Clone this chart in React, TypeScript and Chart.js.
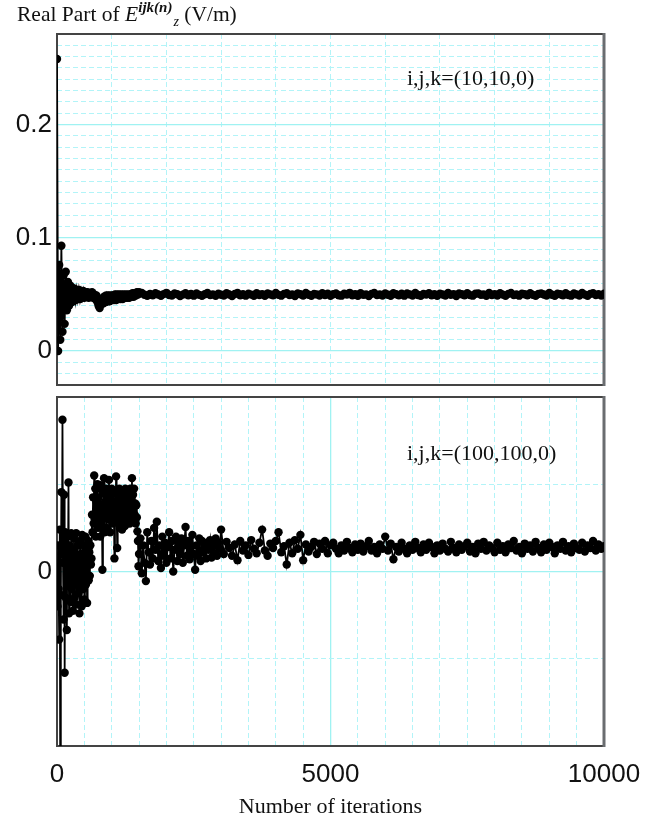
import React, { useEffect, useRef } from 'react';
import { Chart, registerables } from 'chart.js';
Chart.register(...registerables);

// ---- data ----
// sampling of iterations: [segment end, step]
const TOP_SAMPLING: [number, number][] = [[1500, 20], [10000, 50]];
const BOTTOM_SAMPLING: [number, number][] = [[1500, 10], [3000, 25], [10000, 50]];

const TOP_EARLY = [
  0.258, 0.000, 0.076, 0.010, 0.093, 0.017, 0.067, 0.024, 0.070, 0.036,
  0.061, 0.040, 0.058, 0.043, 0.056, 0.044, 0.055, 0.045, 0.054, 0.046,
  0.054, 0.046, 0.053, 0.047, 0.053, 0.047, 0.052, 0.048, 0.052, 0.047,
  0.051, 0.048, 0.052, 0.047, 0.050, 0.046, 0.049, 0.043, 0.040, 0.038,
  0.041, 0.046, 0.042, 0.048, 0.043, 0.049, 0.044, 0.049, 0.044, 0.049,
  0.045, 0.049, 0.045, 0.050, 0.045, 0.050, 0.046, 0.050, 0.046, 0.050,
  0.046, 0.050, 0.047, 0.050, 0.047, 0.050, 0.047, 0.050, 0.048, 0.051,
  0.048, 0.051, 0.049, 0.052, 0.050, 0.052,
];
const TOP_LATE = [
  0.0512, 0.0497, 0.0488, 0.0505, 0.0493, 0.0510, 0.0499, 0.0487, 0.0503, 0.0514,
  0.0495, 0.0490, 0.0508, 0.0501, 0.0486, 0.0498, 0.0511, 0.0492, 0.0504, 0.0489,
  0.0509, 0.0496, 0.0487, 0.0502, 0.0513, 0.0494, 0.0500, 0.0488, 0.0506, 0.0497,
  0.0491, 0.0510, 0.0499, 0.0486, 0.0504, 0.0512, 0.0493, 0.0501, 0.0489, 0.0507,
  0.0498, 0.0488, 0.0511, 0.0495, 0.0503, 0.0487, 0.0509, 0.0500, 0.0492, 0.0513,
  0.0496, 0.0489, 0.0505, 0.0510, 0.0494, 0.0499, 0.0486, 0.0508, 0.0502, 0.0491,
  0.0512, 0.0497, 0.0488, 0.0504, 0.0500, 0.0490, 0.0511, 0.0495, 0.0506, 0.0487,
  0.0501, 0.0509, 0.0493, 0.0489, 0.0507, 0.0498, 0.0514, 0.0492, 0.0503, 0.0488,
  0.0510, 0.0496, 0.0500, 0.0486, 0.0505, 0.0512, 0.0494, 0.0499, 0.0490, 0.0508,
  0.0497, 0.0487, 0.0511, 0.0502, 0.0493, 0.0506, 0.0489, 0.0509, 0.0500, 0.0491,
  0.0513, 0.0495, 0.0488, 0.0504, 0.0498, 0.0510, 0.0492, 0.0501, 0.0487, 0.0507,
  0.0499, 0.0490, 0.0512, 0.0496, 0.0503, 0.0486, 0.0508, 0.0501, 0.0493, 0.0511,
  0.0494, 0.0489, 0.0506, 0.0509, 0.0497, 0.0500, 0.0488, 0.0513, 0.0495, 0.0503,
  0.0491, 0.0510, 0.0498, 0.0487, 0.0505, 0.0512, 0.0494, 0.0500, 0.0489, 0.0507,
  0.0502, 0.0492, 0.0511, 0.0496, 0.0488, 0.0504, 0.0509, 0.0499, 0.0490, 0.0513,
  0.0497, 0.0487, 0.0506, 0.0501, 0.0493, 0.0510, 0.0495, 0.0489, 0.0508, 0.0500,
  0.0491, 0.0512, 0.0498, 0.0488, 0.0505, 0.0510, 0.0494, 0.0502, 0.0490, 0.0506,
];
// iterations 0..1500, every 10
const BOTTOM_EARLY = [
  0.00, -0.40, 0.30, -0.20, -0.78, 0.48, -2.60, -0.27, 0.91, 0.20, 1.74, 0.10, -0.55, 0.88, -1.16,
  0.45, -0.30, 0.15, -0.67, 0.40, -0.10, 1.02, -0.48, 0.30, 0.05, -0.35, 0.44, -0.20, 0.25, -0.45,
  0.10, 0.38, -0.30, 0.20, -0.15, 0.44, -0.38, 0.00, 0.30, -0.25, 0.15, -0.48, 0.35, -0.05, 0.20,
  -0.40, 0.42, 0.10, -0.20, 0.30, -0.32, 0.05, 0.40, -0.15, 0.25, -0.36, 0.12, 0.35, -0.10, 0.22,
  -0.05, 0.30, 0.08, 0.15, 0.65, 0.45, 0.85, 0.55, 1.10, 0.60, 0.95, 0.40, 0.80, 0.70, 1.00,
  0.50, 0.85, 0.65, 0.95, 0.40, 0.99, 0.55, 0.75, 0.02, 0.60, 0.90, 1.07, 0.45, 0.80, 0.65,
  0.95, 0.50, 0.78, 0.88, 0.60, 1.05, 0.70, 0.45, 0.85, 0.62, 0.95, 0.55, 0.72, 0.90, 0.65,
  0.15, 0.80, 0.60, 1.09, 0.75, 0.27, 0.90, 0.55, 0.70, 0.95, 0.50, 0.82, 0.62, 0.88, 0.48,
  0.75, 0.90, 0.60, 0.80, 0.52, 0.95, 0.68, 0.85, 0.58, 0.78, 0.92, 0.65, 0.88, 0.55, 0.95,
  0.70, 0.82, 1.07, 0.60, 0.88, 0.75, 0.95, 0.65, 0.78, 0.55, 0.76, 0.62, 0.46, 0.35, 0.06,
  0.20,
];
// iterations 1525..3000, every 25
const BOTTOM_MID = [
  0.38, -0.02, 0.30, 0.10, -0.11, 0.45, 0.22, 0.08, 0.35, 0.15,
  0.50, 0.25, 0.57, 0.12, 0.30, 0.04, 0.40, 0.18, 0.33, 0.10,
  0.28, 0.45, 0.15, 0.35, 0.00, 0.25, 0.40, 0.12, 0.32, 0.20,
  0.38, 0.10, 0.30, 0.51, 0.18, 0.35, 0.14, 0.28, 0.42, 0.20,
  0.02, 0.30, 0.18, 0.38, 0.12, 0.35, 0.22, 0.30, 0.15, 0.33,
  0.25, 0.36, 0.16, 0.30, 0.21, 0.38, 0.18, 0.33, 0.26, 0.48,
];
// iterations 3050..10000, every 50
const BOTTOM_LATE = [
  0.20, 0.34, 0.27, 0.18, 0.31, 0.13, 0.35, 0.24, 0.30, 0.19,
  0.36, 0.26, 0.21, 0.33, 0.48, 0.24, 0.18, 0.32, 0.27, 0.35,
  0.45, 0.22, 0.29, 0.08, 0.33, 0.21, 0.36, 0.26, 0.42, 0.13,
  0.31, 0.23, 0.28, 0.34, 0.20, 0.32, 0.26, 0.35, 0.21, 0.30,
  0.33, 0.26, 0.21, 0.30, 0.24, 0.34, 0.27, 0.22, 0.31, 0.25,
  0.32, 0.23, 0.29, 0.35, 0.24, 0.28, 0.21, 0.31, 0.26, 0.40,
  0.24, 0.32, 0.14, 0.28, 0.23, 0.33, 0.26, 0.21, 0.30, 0.25,
  0.34, 0.27, 0.22, 0.31, 0.25, 0.33, 0.28, 0.21, 0.30, 0.24,
  0.32, 0.26, 0.23, 0.34, 0.27, 0.22, 0.31, 0.25, 0.29, 0.33,
  0.23, 0.28, 0.21, 0.32, 0.26, 0.34, 0.24, 0.30, 0.27, 0.22,
  0.33, 0.25, 0.29, 0.22, 0.31, 0.27, 0.35, 0.24, 0.28, 0.21,
  0.32, 0.26, 0.30, 0.23, 0.34, 0.27, 0.22, 0.31, 0.25, 0.33,
  0.28, 0.21, 0.30, 0.26, 0.34, 0.24, 0.29, 0.22, 0.32, 0.27,
  0.25, 0.33, 0.23, 0.30, 0.27, 0.35, 0.24, 0.31, 0.26, 0.29,
];

const X_MIN = 0;
const X_MAX = 10000;
const X_TICK_LABELS = [0, 5000, 10000];
const TOP_Y_MIN = -0.03;
const TOP_Y_MAX = 0.28;
const TOP_Y_LABELS = [0, 0.1, 0.2];
const TOP_X_MINOR = [1000, 2000, 3000, 4000, 5000, 6000, 7000, 8000, 9000];
const BOTTOM_Y_MIN = -2;
const BOTTOM_Y_MAX = 2;
const BOTTOM_Y_LABELS = [0];
const BOTTOM_Y_MINOR = [-1, 1];

const TITLE_TEXT = 'Real Part of ';
const X_TITLE = 'Number of iterations';
const TOP_NOTE = 'i,j,k=(10,10,0)';
const BOTTOM_NOTE = 'i,j,k=(100,100,0)';

// ---- helpers ----
function iterations(sampling: [number, number][]): number[] {
  const out: number[] = [0];
  let it = 0;
  for (const [end, step] of sampling) {
    while (it + step <= end) {
      it += step;
      out.push(it);
    }
  }
  return out;
}
function points(sampling: [number, number][], vals: number[]) {
  const its = iterations(sampling);
  return its.map((x, i) => ({ x, y: vals[i] }));
}
function topYMinor(): number[] {
  const out: number[] = [];
  for (let k = -2; k <= 27; k++) if (k % 10 !== 0) out.push(k / 100);
  return out;
}
function bottomXMinor(): number[] {
  const out: number[] = [];
  for (let v = 500; v < 10000; v += 500) if (v !== 5000) out.push(v);
  return out;
}

const MAJOR = 'rgb(160,242,242)';
const MINOR = 'rgb(178,244,248)';
const DASH = [5, 3];
const SANS = "'Liberation Sans', Arial, sans-serif";
const SERIF = "'Liberation Serif', 'Times New Roman', serif";

const framePlugin = {
  id: 'frame',
  beforeDatasetsDraw(chart: any) {
    const { ctx, chartArea: a } = chart;
    ctx.save();
    ctx.strokeStyle = '#444';
    ctx.lineWidth = 2;
    ctx.beginPath();
    ctx.moveTo(a.right, a.top);
    ctx.lineTo(a.left, a.top);
    ctx.lineTo(a.left, a.bottom);
    ctx.lineTo(a.right, a.bottom);
    ctx.stroke();
    ctx.strokeStyle = '#6a6d70';
    ctx.lineWidth = 3;
    ctx.beginPath();
    ctx.moveTo(a.right, a.top - 1);
    ctx.lineTo(a.right, a.bottom + 1);
    ctx.stroke();
    ctx.restore();
  },
};

function noPad(s: any) {
  s.paddingLeft = 0;
  s.paddingRight = 0;
  s.paddingTop = 0;
  s.paddingBottom = 0;
}

function fixedTicks(vals: number[]) {
  return (scale: any) => {
    scale.ticks = vals.map((v) => ({ value: v }));
  };
}

function minorAxis(axis: 'x' | 'y', min: number, max: number, vals: number[]) {
  return {
    type: 'linear',
    axis,
    position: axis === 'x' ? 'bottom' : 'left',
    min,
    max,
    afterBuildTicks: fixedTicks(vals),
    afterFit: (s: any) => {
      if (axis === 'x') s.height = 0;
      else s.width = 0;
      noPad(s);
    },
    ticks: { display: false },
    grid: { color: MINOR, lineWidth: 1, drawTicks: false },
    border: { display: false, dash: DASH },
  };
}

function dataset(data: any[]) {
  return {
    data,
    borderColor: '#000',
    backgroundColor: '#000',
    borderWidth: 1.8,
    pointRadius: 4.2,
    pointBorderWidth: 0,
    pointBackgroundColor: '#000',
    tension: 0,
    xAxisID: 'x',
    yAxisID: 'y',
  };
}

function topConfig(): any {
  return {
    type: 'line',
    data: { datasets: [dataset(points(TOP_SAMPLING, [...TOP_EARLY, ...TOP_LATE]))] },
    options: {
      animation: false,
      responsive: false,
      events: [],
      layout: { padding: { top: 34, right: 65, bottom: 7, left: 0 } },
      plugins: { legend: { display: false }, tooltip: { enabled: false } },
      scales: {
        x: { type: 'linear', min: X_MIN, max: X_MAX, display: false },
        xMinor: minorAxis('x', X_MIN, X_MAX, TOP_X_MINOR),
        y: {
          type: 'linear',
          position: 'left',
          min: TOP_Y_MIN,
          max: TOP_Y_MAX,
          afterBuildTicks: fixedTicks(TOP_Y_LABELS),
          afterFit: (s: any) => { s.width = 57; noPad(s); },
          ticks: {
            padding: 5,
            color: '#111',
            font: { family: SANS, size: 26 },
            callback: (v: number) => String(v),
          },
          grid: { color: MAJOR, lineWidth: 1.3, drawTicks: false },
          border: { display: false },
        },
        yMinor: minorAxis('y', TOP_Y_MIN, TOP_Y_MAX, topYMinor()),
      },
    },
    plugins: [framePlugin],
  };
}

function bottomConfig(): any {
  return {
    type: 'line',
    data: {
      datasets: [dataset(points(BOTTOM_SAMPLING, [...BOTTOM_EARLY, ...BOTTOM_MID, ...BOTTOM_LATE]))],
    },
    options: {
      animation: false,
      responsive: false,
      events: [],
      layout: { padding: { top: 7, right: 65, bottom: 0, left: 0 } },
      plugins: { legend: { display: false }, tooltip: { enabled: false } },
      scales: {
        x: {
          type: 'linear',
          position: 'bottom',
          min: X_MIN,
          max: X_MAX,
          afterBuildTicks: fixedTicks(X_TICK_LABELS),
          afterFit: (s: any) => { s.height = 73; noPad(s); },
          ticks: {
            padding: 13,
            autoSkip: false,
            maxRotation: 0,
            color: '#111',
            font: { family: SANS, size: 26 },
            callback: (v: number) => String(v),
          },
          title: {
            display: true,
            text: X_TITLE,
            color: '#111',
            font: { family: SERIF, size: 22, lineHeight: 1 },
            padding: { top: 0, bottom: 1 },
          },
          grid: { color: MAJOR, lineWidth: 1.3, drawTicks: false },
          border: { display: false },
        },
        xMinor: minorAxis('x', X_MIN, X_MAX, bottomXMinor()),
        y: {
          type: 'linear',
          position: 'left',
          min: BOTTOM_Y_MIN,
          max: BOTTOM_Y_MAX,
          afterBuildTicks: fixedTicks(BOTTOM_Y_LABELS),
          afterFit: (s: any) => { s.width = 57; noPad(s); },
          ticks: {
            padding: 5,
            color: '#111',
            font: { family: SANS, size: 26 },
            callback: (v: number) => String(v),
          },
          grid: { color: MAJOR, lineWidth: 1.3, drawTicks: false },
          border: { display: false },
        },
        yMinor: minorAxis('y', BOTTOM_Y_MIN, BOTTOM_Y_MAX, BOTTOM_Y_MINOR),
      },
    },
    plugins: [framePlugin],
  };
}

function Panel({ top, height, make }: { top: number; height: number; make: () => any }) {
  const ref = useRef<HTMLCanvasElement | null>(null);
  useEffect(() => {
    if (!ref.current) return;
    const chart = new Chart(ref.current, make());
    return () => chart.destroy();
  }, []);
  return (
    <canvas
      ref={ref}
      width={669}
      height={height}
      style={{ position: 'absolute', left: 0, top, width: 669, height }}
    />
  );
}

export default function App() {
  return (
    <div
      style={{
        position: 'absolute',
        left: 0,
        top: 0,
        width: 669,
        height: 819,
        background: '#fff',
        overflow: 'hidden',
      }}
    >
      <Panel top={0} height={392} make={topConfig} />
      <Panel top={390} height={429} make={bottomConfig} />
      <div
        style={{
          position: 'absolute',
          left: 17,
          top: 4,
          fontFamily: SERIF,
          fontSize: 21.5,
          lineHeight: '21px',
          whiteSpace: 'nowrap',
          color: '#111',
        }}
      >
        {TITLE_TEXT}
        <i>E</i>
        <span style={{ position: 'relative', top: -9, fontSize: 15, fontStyle: 'italic', fontWeight: 'bold' }}>
          ijk(n)
        </span>
        <span style={{ position: 'relative', top: 5, fontSize: 14, fontStyle: 'italic', marginLeft: 1 }}>z</span>
        {' (V/m)'}
      </div>
      <div
        style={{
          position: 'absolute',
          left: 407,
          top: 67,
          fontFamily: SERIF,
          fontSize: 22,
          lineHeight: '22px',
          whiteSpace: 'nowrap',
          color: '#111',
        }}
      >
        {TOP_NOTE}
      </div>
      <div
        style={{
          position: 'absolute',
          left: 407,
          top: 442,
          fontFamily: SERIF,
          fontSize: 22,
          lineHeight: '22px',
          whiteSpace: 'nowrap',
          color: '#111',
        }}
      >
        {BOTTOM_NOTE}
      </div>
    </div>
  );
}
